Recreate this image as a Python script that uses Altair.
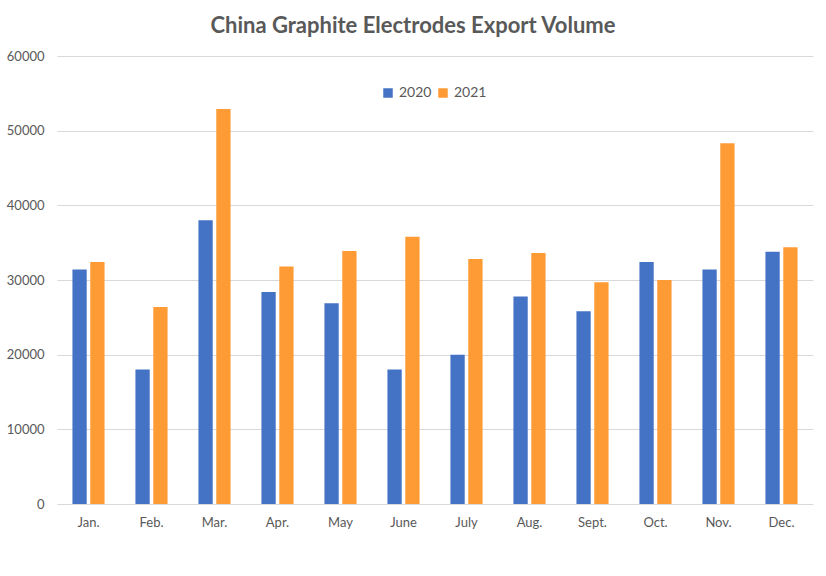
import altair as alt
import pandas as pd

# Monthly export volume of graphite electrodes (tonnes)
months = ["Jan.", "Feb.", "Mar.", "Apr.", "May", "June",
          "July", "Aug.", "Sept.", "Oct.", "Nov.", "Dec."]
vol_2020 = [31400, 18000, 38000, 28400, 26900, 18000,
            20000, 27800, 25800, 32400, 31400, 33800]
vol_2021 = [32400, 26400, 52900, 31800, 33900, 35800,
            32800, 33600, 29700, 30000, 48300, 34400]
years = ["2020", "2021"]
colors = ["#4472C4", "#FF9B34"]

rows = []
for m, a, b in zip(months, vol_2020, vol_2021):
    rows.append({"month": m, "year": years[0], "volume": a})
    rows.append({"month": m, "year": years[1], "volume": b})
df = pd.DataFrame(rows)

FONT = "Lato"
GREY = "#595959"

chart = (
    alt.Chart(df)
    .mark_bar()
    .encode(
        x=alt.X("month:N", sort=months,
                scale=alt.Scale(paddingInner=0.49, paddingOuter=0.245),
                axis=alt.Axis(title=None, labelAngle=0, domain=False, ticks=False,
                              grid=False, labelPadding=12, labelFontSize=13,
                              labelColor=GREY, labelFont=FONT)),
        xOffset=alt.XOffset("year:N", scale=alt.Scale(paddingInner=0.2)),
        y=alt.Y("volume:Q",
                scale=alt.Scale(domain=[0, 60000], nice=False),
                axis=alt.Axis(title=None, values=list(range(0, 60001, 10000)),
                              format="d", domain=False, ticks=False, labelPadding=13,
                              labelFontSize=13, labelColor=GREY, labelFont=FONT,
                              gridColor="#D9D9D9", gridWidth=1)),
        color=alt.Color("year:N", scale=alt.Scale(domain=years, range=colors),
                        legend=alt.Legend(title=None, orient="none", direction="horizontal",
                                          legendX=324, legendY=30, symbolType="square",
                                          symbolSize=90, symbolStrokeWidth=0,
                                          labelFontSize=14, labelColor=GREY,
                                          labelFont=FONT, columnPadding=4,
                                          symbolOffset=0, labelOffset=4)),
    )
    .properties(
        width=756, height=448,
        background="white",
        title=alt.TitleParams("China Graphite Electrodes Export Volume",
                              font=FONT, fontSize=22, fontWeight="bold",
                              color=GREY, anchor="middle", dx=-22, offset=12),
        autosize=alt.AutoSizeParams(type="none"),
        padding={"left": 57, "top": 56, "right": 13, "bottom": 72},
    )
    .configure_view(stroke=None, strokeWidth=0)
)

chart.save("out.html", embed_options={"renderer": "svg", "actions": False})
